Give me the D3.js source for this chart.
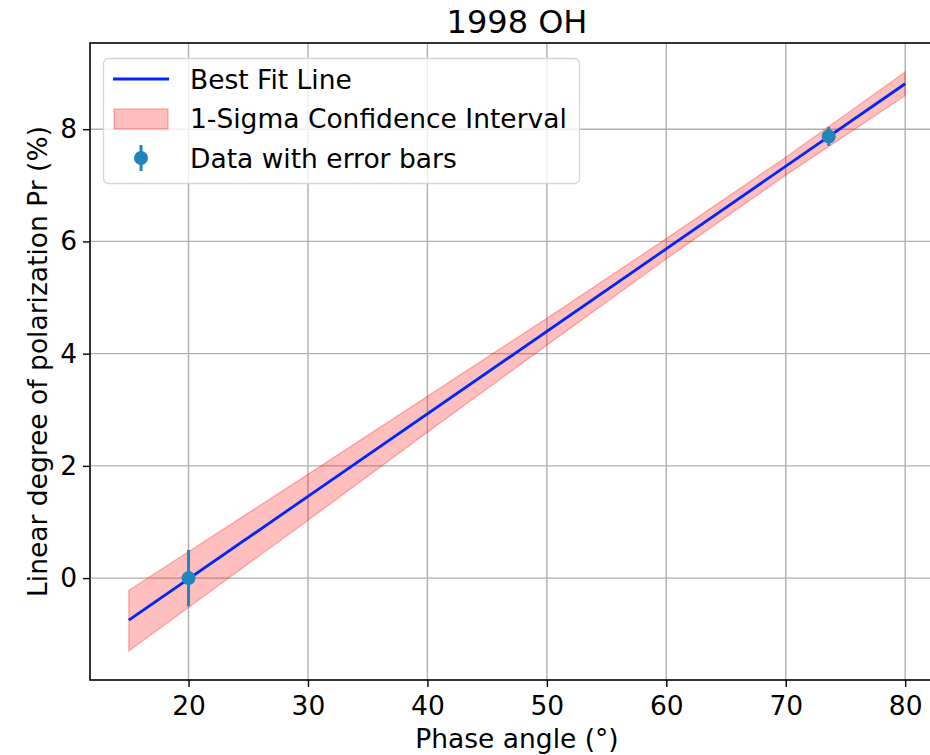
<!DOCTYPE html>
<html>
<head>
<meta charset="utf-8">
<script src="https://cdn.jsdelivr.net/npm/d3@7"></script>
<style>
  body { margin: 0; background: #fff; }
  svg text { font-family: "DejaVu Sans", sans-serif; fill: #000; }
</style>
</head>
<body>
<div id="chart"></div>
<script>
// values
var fitX = [15, 80];
var fitY = [-0.75, 8.81];

var bandX  = [15, 20, 30, 40, 50, 60, 70, 80];
var bandHi = [-0.22, 0.47, 1.85, 3.24, 4.63, 6.05, 7.50, 9.02];
var bandLo = [-1.30, -0.52, 1.03, 2.60, 4.15, 5.69, 7.18, 8.60];

var ptX   = [20, 73.6];
var ptY   = [0, 7.87];
var ptErr = [0.5, 0.17];

var xTicks = [20, 30, 40, 50, 60, 70, 80];
var yTicks = [0, 2, 4, 6, 8];

var W = 930, H = 755;
var m = {left: 90, top: 43, right: 944, bottom: 680};
var fs = 26.5;

var svg = d3.select("#chart").append("svg")
    .attr("width", W)
    .attr("height", H);

var x = d3.scaleLinear().domain([11.75, 83.25]).range([m.left, m.right]);
var y = d3.scaleLinear().domain([-1.816, 9.536]).range([m.bottom, m.top]);

// grid
svg.append("g").selectAll("line")
    .data(xTicks)
    .enter().append("line")
    .attr("x1", function(d){ return x(d); })
    .attr("x2", function(d){ return x(d); })
    .attr("y1", m.top).attr("y2", m.bottom)
    .attr("stroke", "#b0b0b0").attr("stroke-width", 1.4);
svg.append("g").selectAll("line")
    .data(yTicks)
    .enter().append("line")
    .attr("y1", function(d){ return y(d); })
    .attr("y2", function(d){ return y(d); })
    .attr("x1", m.left).attr("x2", m.right)
    .attr("stroke", "#b0b0b0").attr("stroke-width", 1.4);

// confidence band
var area = d3.area()
    .x(function(d, i){ return x(bandX[i]); })
    .y0(function(d, i){ return y(bandLo[i]); })
    .y1(function(d, i){ return y(bandHi[i]); });
svg.append("path")
    .attr("d", area(bandX))
    .attr("fill", "rgba(255,0,0,0.25)")
    .attr("stroke", "rgba(255,0,0,0.25)")
    .attr("stroke-width", 1.5);

// best fit line
var line = d3.line()
    .x(function(d, i){ return x(fitX[i]); })
    .y(function(d, i){ return y(fitY[i]); });
svg.append("path")
    .attr("d", line(fitX))
    .attr("fill", "none")
    .attr("stroke", "#0026ff")
    .attr("stroke-width", 2.8);

// data with error bars
var pts = svg.append("g").selectAll("g")
    .data(ptX)
    .enter().append("g");
pts.append("line")
    .attr("x1", function(d){ return x(d); })
    .attr("x2", function(d){ return x(d); })
    .attr("y1", function(d, i){ return y(ptY[i] - ptErr[i]); })
    .attr("y2", function(d, i){ return y(ptY[i] + ptErr[i]); })
    .attr("stroke", "#1f86bd").attr("stroke-width", 3);
pts.append("circle")
    .attr("cx", function(d){ return x(d); })
    .attr("cy", function(d, i){ return y(ptY[i]); })
    .attr("r", 7)
    .attr("fill", "#1f86bd");

// axes
var xAxis = svg.append("g")
    .attr("transform", "translate(0," + m.bottom + ")")
    .call(d3.axisBottom(x).tickValues(xTicks).tickSize(7).tickPadding(5));
var yAxis = svg.append("g")
    .attr("transform", "translate(" + m.left + ",0)")
    .call(d3.axisLeft(y).tickValues(yTicks).tickSize(7).tickPadding(6));
[xAxis, yAxis].forEach(function(a){
    a.select(".domain").remove();
    a.selectAll(".tick line").attr("stroke", "#000").attr("stroke-width", 1.4);
    a.selectAll(".tick text").style("font-size", fs + "px").attr("fill", "#000");
});
xAxis.selectAll(".tick text").attr("dy", "0.85em");

// spines
svg.append("rect")
    .attr("x", m.left).attr("y", m.top)
    .attr("width", m.right - m.left).attr("height", m.bottom - m.top)
    .attr("fill", "none").attr("stroke", "#000").attr("stroke-width", 1.6);

// title and labels
svg.append("text")
    .attr("x", (m.left + m.right) / 2).attr("y", 33)
    .attr("text-anchor", "middle")
    .style("font-size", "32px")
    .text("1998 OH");
svg.append("text")
    .attr("x", (m.left + m.right) / 2).attr("y", 748)
    .attr("text-anchor", "middle")
    .style("font-size", fs + "px")
    .text("Phase angle (°)");
svg.append("text")
    .attr("transform", "translate(47," + ((m.top + m.bottom) / 2) + ") rotate(-90)")
    .attr("text-anchor", "middle")
    .style("font-size", fs + "px")
    .text("Linear degree of polarization Pr (%)");

// legend
var lg = svg.append("g");
lg.append("rect")
    .attr("x", 103.5).attr("y", 58.5)
    .attr("width", 476).attr("height", 125)
    .attr("rx", 5)
    .attr("fill", "rgba(255,255,255,0.8)")
    .attr("stroke", "#d6d6d6").attr("stroke-width", 1.3);
var rows = [79, 118, 158];
var labels = ["Best Fit Line", "1-Sigma Confidence Interval", "Data with error bars"];
lg.append("line")
    .attr("x1", 113).attr("x2", 169)
    .attr("y1", rows[0]).attr("y2", rows[0])
    .attr("stroke", "#0026ff").attr("stroke-width", 2.8);
lg.append("rect")
    .attr("x", 114).attr("y", rows[1] - 9)
    .attr("width", 54).attr("height", 20)
    .attr("fill", "rgba(255,0,0,0.25)")
    .attr("stroke", "rgba(255,0,0,0.25)").attr("stroke-width", 1.5);
lg.append("line")
    .attr("x1", 141).attr("x2", 141)
    .attr("y1", rows[2] - 13).attr("y2", rows[2] + 13)
    .attr("stroke", "#1f86bd").attr("stroke-width", 3);
lg.append("circle")
    .attr("cx", 141).attr("cy", rows[2]).attr("r", 7)
    .attr("fill", "#1f86bd");
lg.selectAll("text.lab")
    .data(labels)
    .enter().append("text")
    .attr("class", "lab")
    .attr("x", 190)
    .attr("y", function(d, i){ return rows[i]; })
    .attr("dy", "0.36em")
    .style("font-size", fs + "px")
    .text(function(d){ return d; });
</script>
</body>
</html>
